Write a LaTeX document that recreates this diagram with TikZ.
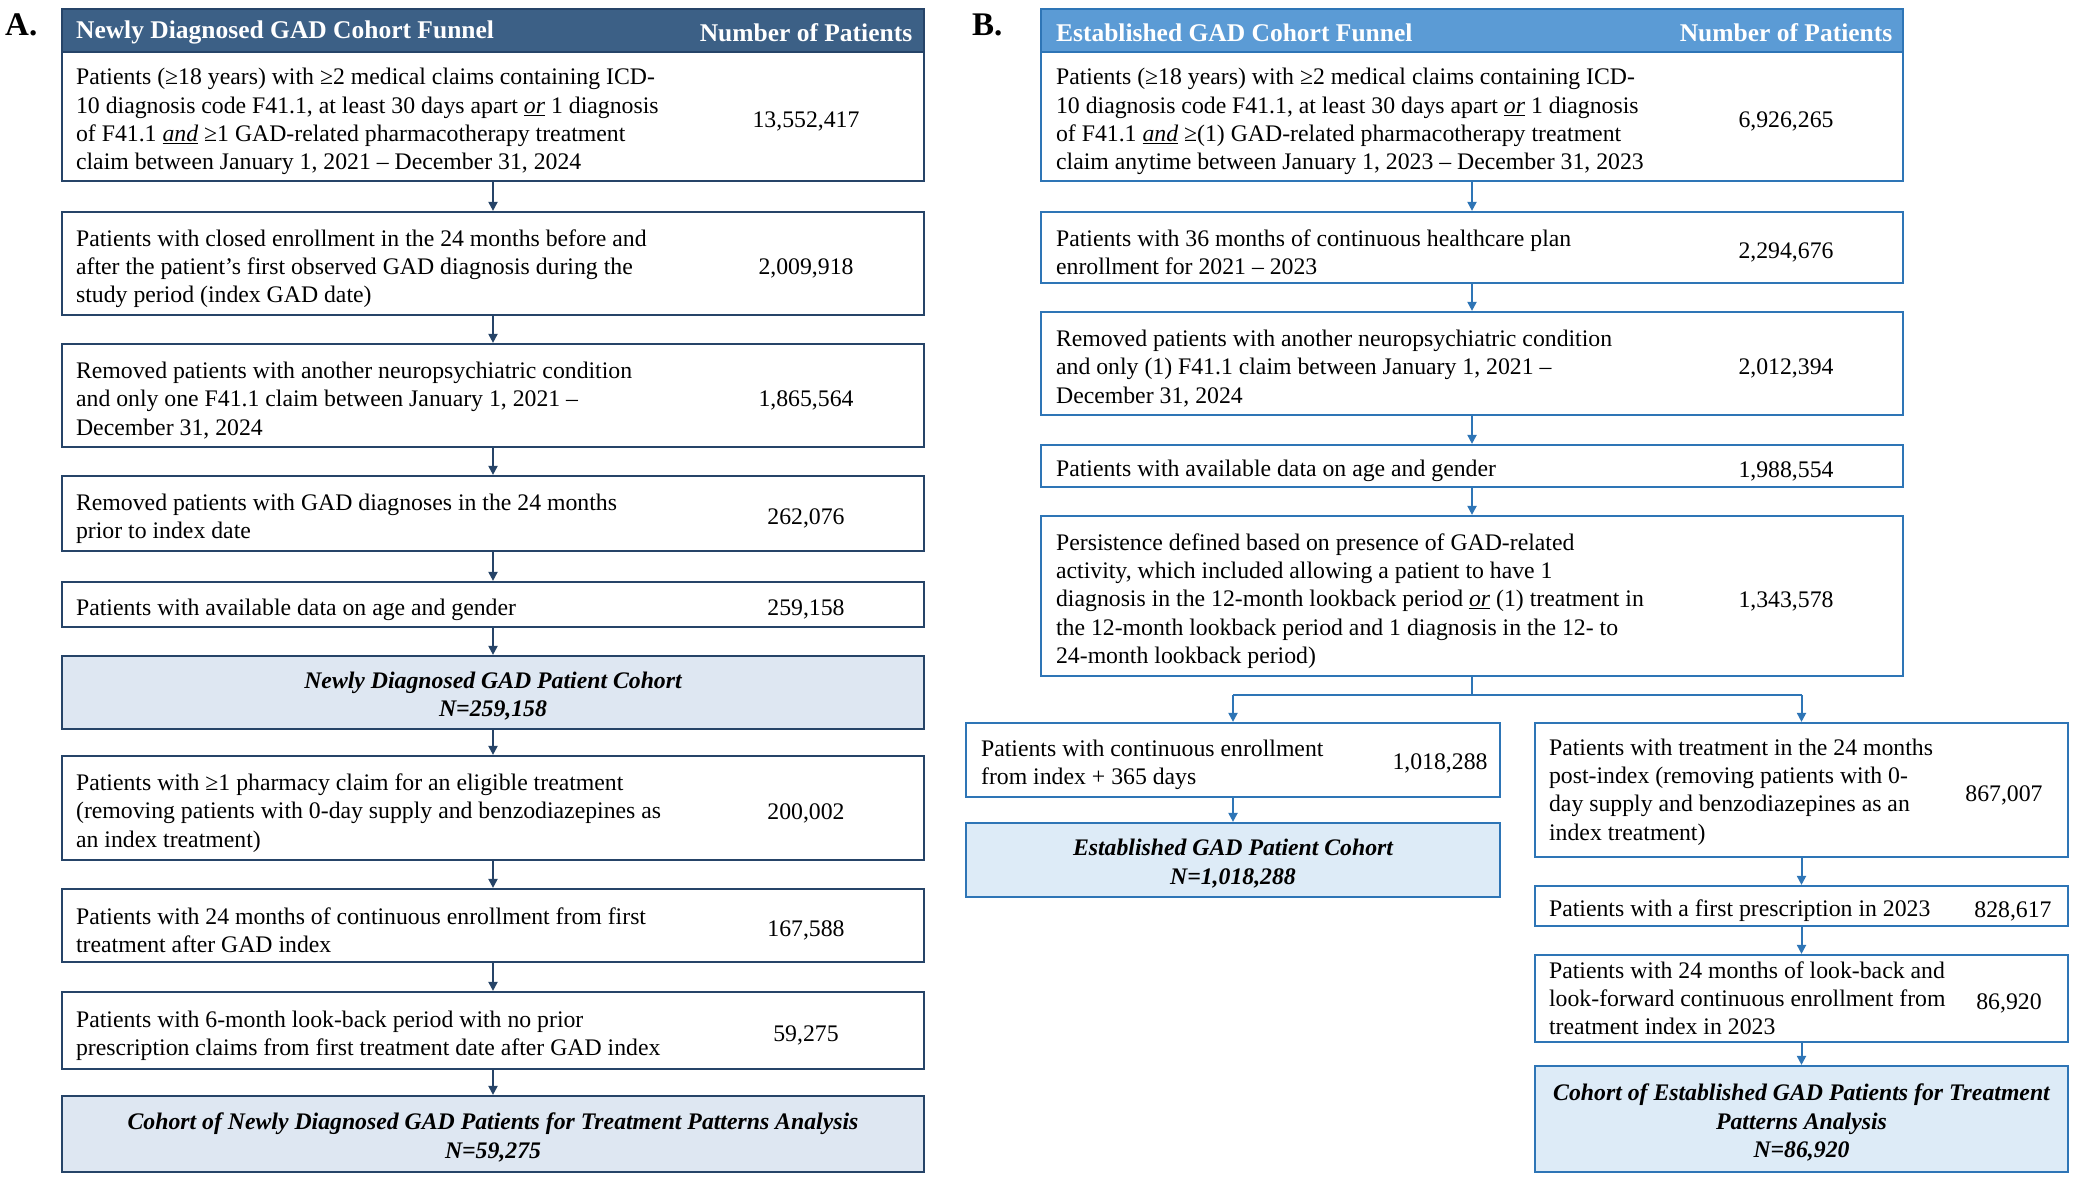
\documentclass[tikz,border=0pt]{standalone}
\usepackage{fontspec}
\setmainfont{Liberation Serif}
\usetikzlibrary{arrows.meta,calc}
\definecolor{hdrA}{RGB}{60,96,134}
\definecolor{brdA}{RGB}{38,68,104}
\definecolor{fillA}{RGB}{222,231,242}
\definecolor{hdrB}{RGB}{91,155,213}
\definecolor{brdB}{RGB}{46,117,182}
\definecolor{fillB}{RGB}{221,235,247}
\newcommand{\mkbox}[6]{\node[#2, minimum width={#5-#3}, minimum height={#6-#4}] (#1) at ({(#3+#5)/2},{(#4+#6)/2}) {};}
\newcommand{\ul}[1]{\underline{\textit{#1}}}
\begin{document}
\begin{tikzpicture}[x=1pt,y=-1pt,
  bxA/.style={draw=brdA, line width=2.2pt, fill=white, inner sep=0pt},
  bxB/.style={draw=brdB, line width=2.2pt, fill=white, inner sep=0pt},
  cohA/.style={bxA, fill=fillA},
  cohB/.style={bxB, fill=fillB},
  hdA/.style={draw=brdA, line width=2.2pt, fill=hdrA, inner sep=0pt},
  hdB/.style={draw=brdB, line width=2.2pt, fill=hdrB, inner sep=0pt},
  txt/.style={anchor=west, align=left, inner sep=0pt, yshift=-5pt, font=\fontsize{23.75}{28.2}\selectfont},
  num/.style={inner sep=0pt, yshift=-5pt, font=\fontsize{23.75}{28.2}\selectfont},
  cohtxt/.style={inner sep=0pt, align=center, yshift=-3.5pt, font=\fontsize{23.75}{28.2}\selectfont\bfseries\itshape},
  hdtxt/.style={inner sep=0pt, text=white, yshift=-2pt, font=\fontsize{25.5}{28}\selectfont\bfseries},
  panel/.style={inner sep=0pt, anchor=west, font=\fontsize{33}{36}\selectfont\bfseries},
  arrA/.style={draw=brdA, line width=2pt, -{Triangle[width=9pt,length=9pt]}},
  arrB/.style={draw=brdB, line width=2pt, -{Triangle[width=9pt,length=9pt]}},
  lnB/.style={draw=brdB, line width=2.6pt}
]
\useasboundingbox (0,0) rectangle (2075,1179);

% ---------------- Panel A ----------------
\node[panel] (labA) at (5,25) {A.};
\mkbox{AH}{hdA}{62}{9}{924}{52}
\mkbox{A1}{bxA}{62}{52}{924}{181}
\mkbox{A2}{bxA}{62}{212}{924}{315}
\mkbox{A3}{bxA}{62}{344}{924}{447}
\mkbox{A4}{bxA}{62}{476}{924}{551}
\mkbox{A5}{bxA}{62}{582}{924}{627}
\mkbox{AC}{cohA}{62}{656}{924}{729}
\mkbox{A6}{bxA}{62}{756}{924}{860}
\mkbox{A7}{bxA}{62}{889}{924}{962}
\mkbox{A8}{bxA}{62}{992}{924}{1069}
\mkbox{AF}{cohA}{62}{1096}{924}{1172}
\coordinate (Acol) at (806,0);

\node[hdtxt, anchor=west] (AHt) at ([xshift=15pt]AH.west) {Newly Diagnosed GAD Cohort Funnel};
\node[hdtxt] (AHn) at (AH.center -| Acol) {Number of Patients};

\node[txt] (A1t) at ([xshift=15pt]A1.west) {Patients (≥18 years) with ≥2 medical claims containing ICD-\\10 diagnosis code F41.1, at least 30 days apart \ul{or} 1 diagnosis\\of F41.1 \ul{and} ≥1 GAD-related pharmacotherapy treatment\\claim between January 1, 2021 – December 31, 2024};
\node[num] (A1n) at (A1.center -| Acol) {13,552,417};

\node[txt] (A2t) at ([xshift=15pt]A2.west) {Patients with closed enrollment in the 24 months before and\\after the patient's first observed GAD diagnosis during the\\study period (index GAD date)};
\node[num] (A2n) at (A2.center -| Acol) {2,009,918};

\node[txt] (A3t) at ([xshift=15pt]A3.west) {Removed patients with another neuropsychiatric condition\\and only one F41.1 claim between January 1, 2021 –\\December 31, 2024};
\node[num] (A3n) at (A3.center -| Acol) {1,865,564};

\node[txt] (A4t) at ([xshift=15pt]A4.west) {Removed patients with GAD diagnoses in the 24 months\\prior to index date};
\node[num] (A4n) at (A4.center -| Acol) {262,076};

\node[txt] (A5t) at ([xshift=15pt]A5.west) {Patients with available data on age and gender};
\node[num] (A5n) at (A5.center -| Acol) {259,158};

\node[cohtxt] (ACt) at (AC.center) {Newly Diagnosed GAD Patient Cohort\\N=259,158};

\node[txt] (A6t) at ([xshift=15pt]A6.west) {Patients with ≥1 pharmacy claim for an eligible treatment\\(removing patients with 0-day supply and benzodiazepines as\\an index treatment)};
\node[num] (A6n) at (A6.center -| Acol) {200,002};

\node[txt] (A7t) at ([xshift=15pt]A7.west) {Patients with 24 months of continuous enrollment from first\\treatment after GAD index};
\node[num] (A7n) at (A7.center -| Acol) {167,588};

\node[txt] (A8t) at ([xshift=15pt]A8.west) {Patients with 6-month look-back period with no prior\\prescription claims from first treatment date after GAD index};
\node[num] (A8n) at (A8.center -| Acol) {59,275};

\node[cohtxt] (AFt) at (AF.center) {Cohort of Newly Diagnosed GAD Patients for Treatment Patterns Analysis\\N=59,275};

\draw[arrA] (A1) -- (A2);
\draw[arrA] (A2) -- (A3);
\draw[arrA] (A3) -- (A4);
\draw[arrA] (A4) -- (A5);
\draw[arrA] (A5) -- (AC);
\draw[arrA] (AC) -- (A6);
\draw[arrA] (A6) -- (A7);
\draw[arrA] (A7) -- (A8);
\draw[arrA] (A8) -- (AF);

% ---------------- Panel B ----------------
\node[panel] (labB) at (972,25) {B.};
\mkbox{BH}{hdB}{1041}{9}{1903}{52}
\mkbox{B1}{bxB}{1041}{52}{1903}{181}
\mkbox{B2}{bxB}{1041}{212}{1903}{283}
\mkbox{B3}{bxB}{1041}{312}{1903}{415}
\mkbox{B4}{bxB}{1041}{445}{1903}{487}
\mkbox{B5}{bxB}{1041}{516}{1903}{676}
\mkbox{BL1}{bxB}{966}{723}{1500}{797}
\mkbox{BLC}{cohB}{966}{823}{1500}{897}
\mkbox{BR1}{bxB}{1535}{723}{2068}{857}
\mkbox{BR2}{bxB}{1535}{886}{2068}{926}
\mkbox{BR3}{bxB}{1535}{955}{2068}{1042}
\mkbox{BRF}{cohB}{1535}{1066}{2068}{1172}
\coordinate (Bcol) at (1786,0);

\node[hdtxt, anchor=west] (BHt) at ([xshift=16pt]BH.west) {Established GAD Cohort Funnel};
\node[hdtxt] (BHn) at (BH.center -| Bcol) {Number of Patients};

\node[txt] (B1t) at ([xshift=16pt]B1.west) {Patients (≥18 years) with ≥2 medical claims containing ICD-\\10 diagnosis code F41.1, at least 30 days apart \ul{or} 1 diagnosis\\of F41.1 \ul{and} ≥(1) GAD-related pharmacotherapy treatment\\claim anytime between January 1, 2023 – December 31, 2023};
\node[num] (B1n) at (B1.center -| Bcol) {6,926,265};

\node[txt] (B2t) at ([xshift=16pt]B2.west) {Patients with 36 months of continuous healthcare plan\\enrollment for 2021 – 2023};
\node[num] (B2n) at (B2.center -| Bcol) {2,294,676};

\node[txt] (B3t) at ([xshift=16pt]B3.west) {Removed patients with another neuropsychiatric condition\\and only (1) F41.1 claim between January 1, 2021 –\\December 31, 2024};
\node[num] (B3n) at (B3.center -| Bcol) {2,012,394};

\node[txt] (B4t) at ([xshift=16pt]B4.west) {Patients with available data on age and gender};
\node[num] (B4n) at (B4.center -| Bcol) {1,988,554};

\node[txt] (B5t) at ([xshift=16pt]B5.west) {Persistence defined based on presence of GAD-related\\activity, which included allowing a patient to have 1\\diagnosis in the 12-month lookback period \ul{or} (1) treatment in\\the 12-month lookback period and 1 diagnosis in the 12- to\\24-month lookback period)};
\node[num] (B5n) at (B5.center -| Bcol) {1,343,578};

\node[txt] (BL1t) at ([xshift=16pt]BL1.west) {Patients with continuous enrollment\\from index + 365 days};
\node[num] (BL1n) at ($(BL1.center -| 1440,0)+(0,-2)$) {1,018,288};

\node[cohtxt] (BLCt) at (BLC.center) {Established GAD Patient Cohort\\N=1,018,288};

\node[txt, yshift=3pt] (BR1t) at ([xshift=15pt]BR1.west) {Patients with treatment in the 24 months\\post-index (removing patients with 0-\\day supply and benzodiazepines as an\\index treatment)};
\node[num] (BR1n) at (BR1.center -| 2004,0) {867,007};

\node[txt] (BR2t) at ([xshift=15pt]BR2.west) {Patients with a first prescription in 2023};
\node[num] (BR2n) at (BR2.center -| 2013,0) {828,617};

\node[txt, yshift=5pt] (BR3t) at ([xshift=15pt]BR3.west) {Patients with 24 months of look-back and\\look-forward continuous enrollment from\\treatment index in 2023};
\node[num] (BR3n) at (BR3.center -| 2009,0) {86,920};

\node[cohtxt] (BRFt) at (BRF.center) {Cohort of Established GAD Patients for Treatment\\Patterns Analysis\\N=86,920};

\draw[arrB] (B1) -- (B2);
\draw[arrB] (B2) -- (B3);
\draw[arrB] (B3) -- (B4);
\draw[arrB] (B4) -- (B5);
\coordinate (Bj) at (B5.south |- 0,695);
\draw[lnB] (B5.south) -- (Bj);
\draw[lnB] (BL1.north |- Bj) -- (BR1.north |- Bj);
\draw[arrB] (BL1.north |- Bj) -- (BL1);
\draw[arrB] (BR1.north |- Bj) -- (BR1);
\draw[arrB] (BL1) -- (BLC);
\draw[arrB] (BR1) -- (BR2);
\draw[arrB] (BR2) -- (BR3);
\draw[arrB] (BR3) -- (BRF);
\end{tikzpicture}
\end{document}
